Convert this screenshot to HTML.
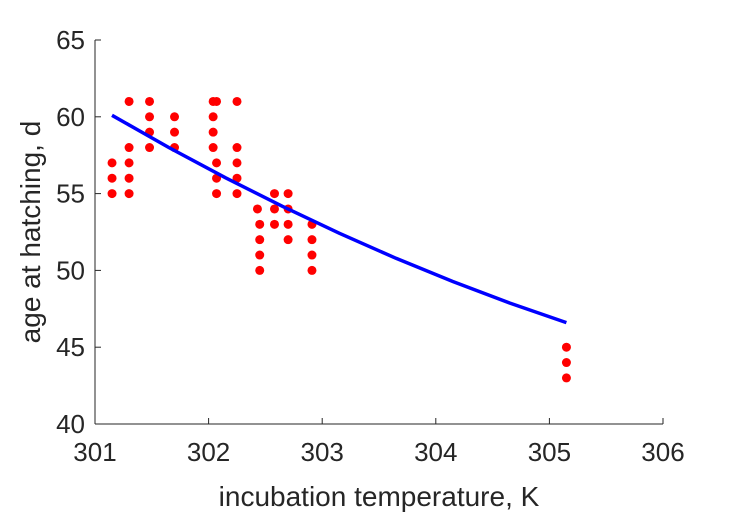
<!DOCTYPE html>
<html><head><meta charset="utf-8"><style>
html,body{margin:0;padding:0;background:#fff;}
svg{display:block;font-family:"Liberation Sans",Arial,sans-serif;}
</style></head><body>
<svg id="chart" width="729" height="521"></svg>
<script>
const xTicks=[301,302,303,304,305,306];
const yTicks=[40,45,50,55,60,65];
const ptX=[301.15,301.15,301.15,301.30,301.30,301.30,301.30,301.30,301.48,301.48,301.48,301.48,301.70,301.70,301.70,302.04,302.04,302.04,302.04,302.07,302.07,302.07,302.07,302.25,302.25,302.25,302.25,302.25,302.43,302.45,302.45,302.45,302.45,302.58,302.58,302.58,302.70,302.70,302.70,302.70,302.91,302.91,302.91,302.91,305.15,305.15,305.15];
const ptY=[55,56,57,55,56,57,58,61,58,59,60,61,58,59,60,58,59,60,61,55,56,57,61,55,56,57,58,61,54,50,51,52,53,53,54,55,52,53,54,55,50,51,52,53,43,44,45];
const fitX=[301.15,301.65,302.15,302.65,303.15,303.65,304.15,304.65,305.15];
const fitY=[60.1,58.0,56.03,54.17,52.42,50.79,49.28,47.88,46.6];
const NS='http://www.w3.org/2000/svg';
const svg=document.getElementById('chart');
const X=v=>95+(v-301)*(663-95)/5;
const Y=v=>424-(v-40)*(424-40)/25;
function mk(t,a,p){const e=document.createElementNS(NS,t);for(const k in a)e.setAttribute(k,a[k]);(p||svg).appendChild(e);return e;}
const ax=mk('g',{});


const yl=mk('line',{x1:95,y1:40,x2:95,y2:424,stroke:'#262626','stroke-width':1},ax);


const xl=mk('line',{x1:95,y1:424,x2:663,y2:424,stroke:'#262626','stroke-width':1},ax);


xTicks.forEach(t=>{
  const l=mk('line',{x1:X(t),y1:424,x2:X(t),y2:418,stroke:'#262626'},ax);
  
  
  const tx=mk('text',{x:X(t),y:461,'text-anchor':'middle','font-size':26,fill:'#262626'},ax);
  tx.textContent=t;
  
  
});
yTicks.forEach(t=>{
  const l=mk('line',{x1:95,y1:Y(t),x2:101,y2:Y(t),stroke:'#262626'},ax);
  
  
  const tx=mk('text',{x:85,y:Y(t)+9,'text-anchor':'end','font-size':26,fill:'#262626'},ax);
  tx.textContent=t;
  
  
});
const xt=mk('text',{x:379,y:506,'text-anchor':'middle','font-size':28,fill:'#262626'});
xt.textContent='incubation temperature, K';


const yt=mk('text',{x:0,y:0,'text-anchor':'middle','font-size':28,fill:'#262626',transform:'translate(40,232) rotate(-90)'});
yt.textContent='age at hatching, d';


const pts=mk('g',{});


ptX.forEach((v,i)=>{
  const c=mk('circle',{cx:X(v),cy:Y(ptY[i]),r:4.5,fill:'#ff0000'},pts);
  
  
});
const d=fitX.map((v,i)=>(i?'L':'M')+X(v).toFixed(1)+','+Y(fitY[i]).toFixed(1)).join(' ');
const fl=mk('path',{d:d,fill:'none',stroke:'#0000ff','stroke-width':3.5});


</script>
</body></html>
